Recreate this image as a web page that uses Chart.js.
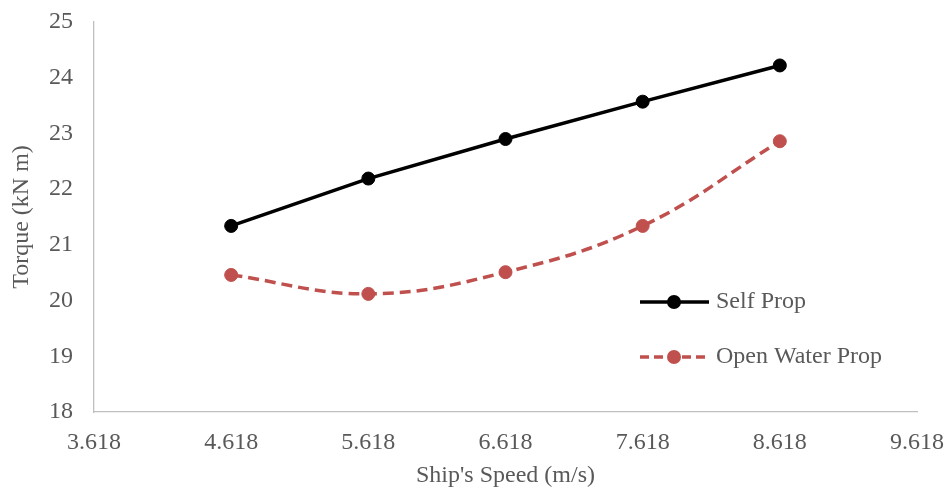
<!DOCTYPE html>
<html>
<head>
<meta charset="utf-8">
<script src="https://cdn.jsdelivr.net/npm/chart.js@4/dist/chart.umd.min.js"></script>
<style>
  html, body { margin: 0; padding: 0; background: #fff; }
  #wrap { width: 949px; height: 490px; position: relative; }
</style>
</head>
<body>
<div id="wrap"><canvas id="c" width="949" height="490"></canvas></div>
<script>
const speeds = [4.618, 5.618, 6.618, 7.618, 8.618];
const selfProp = [21.34, 22.19, 22.90, 23.57, 24.22];
const openWaterProp = [20.46, 20.12, 20.51, 21.34, 22.86];
const xTicks = [3.618, 4.618, 5.618, 6.618, 7.618, 8.618, 9.618];
const yTicks = [18, 19, 20, 21, 22, 23, 24, 25];
const seriesNames = ['Self Prop', 'Open Water Prop'];
const xTitle = "Ship's Speed (m/s)";
const yTitle = 'Torque (kN m)';

const FONT = "'Liberation Serif', 'Times New Roman', serif";
const FS = 24;
const TXT = '#595959';
const RED = '#C0504D';

const legendPlugin = {
  id: 'customLegend',
  afterDraw(chart) {
    const ctx = chart.ctx;
    const items = [
      { name: seriesNames[0], color: '#000000', dash: [], y: 302 },
      { name: seriesNames[1], color: RED, dash: [9, 5], y: 357 }
    ];
    ctx.save();
    items.forEach(it => {
      ctx.strokeStyle = it.color;
      ctx.lineWidth = 3.5;
      ctx.setLineDash(it.dash);
      ctx.beginPath();
      ctx.moveTo(640, it.y);
      ctx.lineTo(709, it.y);
      ctx.stroke();
      ctx.setLineDash([]);
      ctx.fillStyle = it.color;
      ctx.beginPath();
      ctx.arc(674, it.y, 7, 0, Math.PI * 2);
      ctx.fill();
      ctx.fillStyle = TXT;
      ctx.font = FS + "px " + FONT;
      ctx.textBaseline = 'middle';
      ctx.textAlign = 'left';
      ctx.fillText(it.name, 716, it.y);
    });
    ctx.restore();
  }
};

new Chart(document.getElementById('c'), {
  type: 'line',
  data: {
    datasets: [
      {
        label: seriesNames[0],
        data: speeds.map((x, i) => ({ x, y: selfProp[i] })),
        borderColor: '#000000',
        backgroundColor: '#000000',
        borderWidth: 3.5,
        pointRadius: 6.5,
        pointBorderWidth: 1,
        pointBackgroundColor: '#000000',
        pointBorderColor: '#000000',
        tension: 0,
        fill: false
      },
      {
        label: seriesNames[1],
        data: speeds.map((x, i) => ({ x, y: openWaterProp[i] })),
        borderColor: RED,
        backgroundColor: RED,
        borderWidth: 3.5,
        borderDash: [11, 6],
        pointRadius: 6.5,
        pointBorderWidth: 1,
        pointBackgroundColor: RED,
        pointBorderColor: RED,
        tension: 0.4,
        fill: false
      }
    ]
  },
  options: {
    responsive: false,
    animation: false,
    events: [],
    layout: { autoPadding: false, padding: { left: 0, right: 32, top: 22, bottom: 0 } },
    plugins: { legend: { display: false }, tooltip: { enabled: false } },
    scales: {
      x: {
        type: 'linear',
        min: 3.618,
        max: 9.618,
        afterBuildTicks(scale) { scale.ticks = xTicks.map(v => ({ value: v })); },
        afterFit(scale) { scale.height = 78; scale.paddingLeft = 0; scale.paddingRight = 0; },
        ticks: {
          callback: v => Number(v).toFixed(3),
          color: TXT,
          font: { family: FONT, size: FS },
          padding: 16,
          maxRotation: 0,
          autoSkip: false
        },
        grid: { display: true, color: 'rgba(0,0,0,0)', drawTicks: false },
        border: { display: true, color: '#BFBFBF', width: 1.3 },
        title: {
          display: true,
          text: xTitle,
          color: TXT,
          font: { family: FONT, size: FS },
          padding: { top: 1, bottom: 0 }
        }
      },
      y: {
        type: 'linear',
        min: 18,
        max: 25,
        afterBuildTicks(scale) { scale.ticks = yTicks.map(v => ({ value: v })); },
        afterFit(scale) { scale.width = 94; scale.paddingTop = 0; scale.paddingBottom = 0; },
        ticks: {
          color: TXT,
          font: { family: FONT, size: FS },
          padding: 21
        },
        grid: { display: true, color: 'rgba(0,0,0,0)', drawTicks: false },
        border: { display: true, color: '#BFBFBF', width: 1.3 },
        title: {
          display: true,
          text: yTitle,
          color: TXT,
          font: { family: FONT, size: FS },
          padding: { top: 7, bottom: 0 }
        }
      }
    }
  },
  plugins: [legendPlugin]
});
</script>
</body>
</html>
